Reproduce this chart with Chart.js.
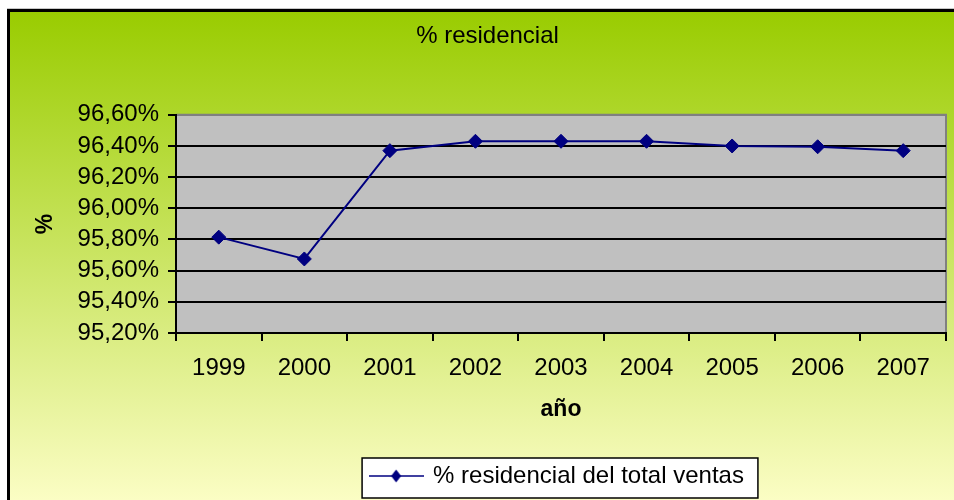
<!DOCTYPE html>
<html><head><meta charset="utf-8">
<script src="https://cdn.jsdelivr.net/npm/chart.js@4.4.1/dist/chart.umd.min.js"></script>
<style>html,body{margin:0;padding:0;background:#fff}#wrap{width:954px;height:500px}</style>
</head><body><div id="wrap"><canvas id="c" width="954" height="500"></canvas></div>
<script>
const categories = ['1999','2000','2001','2002','2003','2004','2005','2006','2007'];
const residencialValues = [95.815, 95.675, 96.37, 96.43, 96.43, 96.43, 96.40, 96.395, 96.37];
const yTickValues = [95.2, 95.4, 95.6, 95.8, 96.0, 96.2, 96.4, 96.6];
const yTickLabels = ['95,20%','95,40%','95,60%','95,80%','96,00%','96,20%','96,40%','96,60%'];
const chartTitle = '% residencial';
const seriesName = '% residencial del total ventas';
const xTitle = 'año';
const yTitle = '%';

Chart.defaults.font.family = '"Liberation Sans", Arial, sans-serif';
Chart.defaults.font.size = 24;
Chart.defaults.color = '#000';

const NAVY = '#000080';
const mk = document.createElement('canvas'); mk.width = 55; mk.height = 14;
(function(){
  const m = mk.getContext('2d');
  m.strokeStyle = NAVY; m.lineWidth = 1.5;
  m.beginPath(); m.moveTo(0, 7); m.lineTo(55, 7); m.stroke();
  m.fillStyle = NAVY;
  m.beginPath(); m.moveTo(27.5, 0.5); m.lineTo(32.5, 7); m.lineTo(27.5, 13.5); m.lineTo(22.5, 7); m.closePath(); m.fill();
})();

const decor = {
  id: 'decor',
  afterLayout(chart) {
    const lg = chart.legend;
    if (lg) { lg.left += 84; lg.right += 84; }
    const tb = chart.titleBlock;
    if (tb) { tb.left += 14; tb.right += 14; }
  },
  beforeDraw(chart) {
    const ctx = chart.ctx, a = chart.chartArea;
    ctx.save();
    ctx.fillStyle = '#fff'; ctx.fillRect(0, 0, 954, 500);
    const g = ctx.createLinearGradient(0, 10, 0, 520);
    g.addColorStop(0, '#99CC00'); g.addColorStop(1, '#FFFFCC');
    ctx.fillStyle = g; ctx.fillRect(8, 10, 960, 520);
    ctx.fillStyle = '#c8c8c8'; ctx.fillRect(7, 8, 960, 1);
    ctx.fillStyle = '#000';
    ctx.fillRect(7, 9, 960, 3);
    ctx.fillRect(7, 9, 3, 500);
    ctx.fillStyle = '#C0C0C0';
    ctx.fillRect(a.left, a.top, a.right - a.left, a.bottom - a.top);
    ctx.strokeStyle = '#808080'; ctx.lineWidth = 2;
    ctx.beginPath(); ctx.moveTo(a.left, a.top); ctx.lineTo(a.right, a.top); ctx.lineTo(a.right, a.bottom); ctx.stroke();
    const lg = chart.legend;
    if (lg && lg.legendHitBoxes && lg.legendHitBoxes[0]) {
      const hb = lg.legendHitBoxes[0];
      const x0 = hb.left - 9, x1 = hb.left + hb.width + 14;
      const y0 = 458, y1 = 498;
      ctx.fillStyle = '#fff'; ctx.fillRect(x0, y0, x1 - x0, y1 - y0);
      ctx.strokeStyle = '#000'; ctx.lineWidth = 1.5; ctx.strokeRect(x0, y0, x1 - x0, y1 - y0);
    }
    ctx.restore();
  }
};

new Chart(document.getElementById('c'), {
  type: 'line',
  data: {
    labels: categories,
    datasets: [{
      label: seriesName,
      data: residencialValues,
      borderColor: NAVY,
      backgroundColor: NAVY,
      borderWidth: 2,
      tension: 0,
      pointStyle: 'rectRot',
      pointRadius: 7,
      pointHoverRadius: 7,
      pointBorderWidth: 1,
      pointBackgroundColor: NAVY,
      pointBorderColor: NAVY,
      fill: false
    }]
  },
  options: {
    responsive: false,
    animation: false,
    events: [],
    layout: { padding: { left: 0, right: 7, top: 0, bottom: 2 } },
    plugins: {
      title: { display: true, text: chartTitle, font: { size: 24, weight: 'normal' }, color: '#000', padding: { top: 22, bottom: 64 } },
      legend: {
        display: true, position: 'bottom', align: 'center',
        labels: { usePointStyle: true, pointStyle: mk, pointStyleWidth: 50, padding: 10, font: { size: 24 }, color: '#000' }
      },
      tooltip: { enabled: false }
    },
    scales: {
      x: {
        type: 'category',
        offset: true,
        grid: { offset: true, drawOnChartArea: false, drawTicks: true, tickLength: 8, color: '#000', tickColor: '#000', lineWidth: 2 },
        border: { display: true, color: '#000', width: 2 },
        ticks: { padding: 13, font: { size: 24 }, color: '#000', maxRotation: 0, autoSkip: false },
        title: { display: true, text: xTitle, font: { size: 23, weight: 'bold' }, color: '#000', padding: { top: 0, bottom: 31 } },
        afterFit(s) { s.height = 121; }
      },
      y: {
        min: 95.2, max: 96.6,
        afterBuildTicks(s) { s.ticks = yTickValues.map(v => ({ value: v })); },
        grid: {
          drawOnChartArea: true, drawTicks: true, tickLength: 8,
          color: c => (c.tick && Math.abs(c.tick.value - 96.6) < 1e-6) ? '#808080' : '#000',
          tickColor: '#000', lineWidth: 2
        },
        border: { display: true, color: '#000', width: 2 },
        ticks: { padding: 9, autoSkip: false, font: { size: 24 }, color: '#000', callback: (v, i) => yTickLabels[i] },
        title: { display: true, text: yTitle, font: { size: 23, weight: 'bold' }, color: '#000', padding: { top: 32, bottom: 0 } },
        afterFit(s) { s.width = 176; }
      }
    }
  },
  plugins: [decor]
});
</script>
</body></html>
